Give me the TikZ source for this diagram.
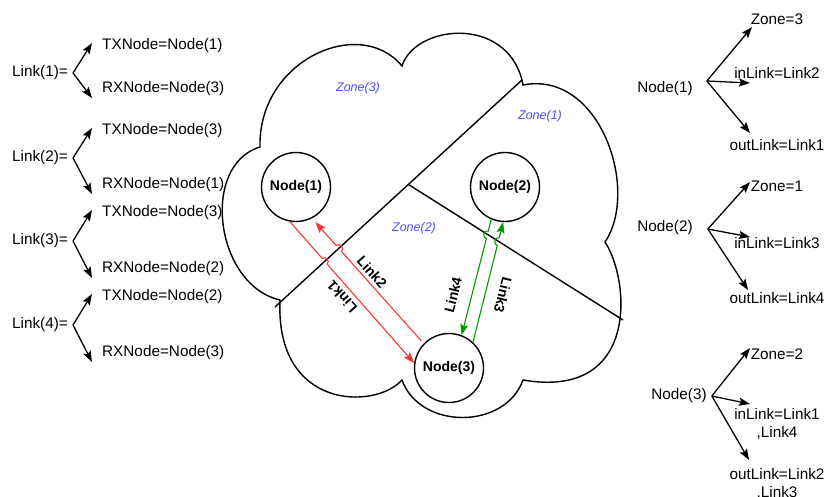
\documentclass[tikz,border=0pt]{standalone}
\usepackage{fontspec}
\setmainfont{Liberation Sans}
\usetikzlibrary{arrows.meta,calc}

\definecolor{linkred}{RGB}{255,51,51}
\definecolor{linkgreen}{RGB}{0,153,0}
\definecolor{zoneblue}{RGB}{77,77,255}

\begin{document}
\begin{tikzpicture}[
		x=1pt,y=-1pt,
		>={Stealth[length=11pt,width=8pt,inset=2pt]},
		txt/.style={font=\fontsize{15.3}{18}\selectfont,inner sep=2pt},
		station/.style={circle,draw,fill=white,line width=1.4pt,minimum size=69pt,inner sep=0pt,
				font=\bfseries\fontsize{14}{16}\selectfont},
		zonelbl/.style={text=zoneblue,font=\itshape\fontsize{12.5}{15}\selectfont},
		linklbl/.style={font=\bfseries\fontsize{14}{16}\selectfont},
		fork/.style={->,line width=1.3pt},
		redlink/.style={->,draw=linkred,line width=1.1pt},
		greenlink/.style={->,draw=linkgreen,line width=1.1pt},
		hopL/.style={bend left=90,looseness=1.5},
		hopR/.style={bend right=90,looseness=1.5}
	]
	\useasboundingbox (0,0) rectangle (827,496);
	\clip (0,0) rectangle (827,496);

	% the cloud
	\draw[line width=1.4pt]
	(260,147) .. controls (258,60) and (360,15) .. (402,66)
	.. controls (415,25) and (505,15) .. (522,80)
	-- (523,85) .. controls (600,70) and (640,190) .. (605,242)
	.. controls (630,280) and (640,400) .. (523,380)
	.. controls (505,430) and (420,430) .. (402,380)
	.. controls (375,410) and (275,410) .. (280,300)
	.. controls (215,285) and (200,165) .. (260,147) -- cycle;

	% zone borders
	\coordinate (a1) at (275,307);
	\coordinate (a2) at (522,80);
	\coordinate (b2) at (623,320);
	\draw[line width=1.4pt] (a1) -- (a2);
	\draw[line width=1.4pt] ($(a1)!0.54!(a2)$) -- (b2);

	\node[zonelbl] (zl3) at (358,88) {Zone(3)};
	\node[zonelbl] (zl1) at (540,116) {Zone(1)};
	\node[zonelbl] (zl2) at (414,228) {Zone(2)};

	% stations
	\node[station] (n1) at (296,187) {Node(1)};
	\node[station] (n2) at (505,187) {Node(2)};
	\node[station] (n3) at (449,368) {Node(3)};

	% links, with a hop where they cross a border
	\draw[redlink] (n1.260) -- ($(n1.260)!0.26!(n3.172)$) to[hopL]
	($(n1.260)!0.30!(n3.172)$) -- (n3.172);
	\draw[redlink,shorten <=4pt,shorten >=5pt] (n3.136) -- ($(n3.136)!0.736!(n1.297)$) to[hopR]
	($(n3.136)!0.784!(n1.297)$) -- (n1.297);
	\draw[greenlink] (n2.247) -- ($(n2.247)!0.10!(n3.69)$) to[hopR]
	($(n2.247)!0.166!(n3.69)$) -- (n3.69);
	\draw[greenlink] (n3.47) -- ($(n3.47)!0.806!(n2.267)$) to[hopL]
	($(n3.47)!0.87!(n2.267)$) -- (n2.267);

	\node[linklbl,rotate=132] (lab1) at (342,297) {Link1};
	\node[linklbl,rotate=-48] (lab2) at (372,272) {Link2};
	\node[linklbl,rotate=-104] (lab3) at (503,295) {Link3};
	\node[linklbl,rotate=76] (lab4) at (453,295) {Link4};

	% link table
	\foreach \k/\y/\t/\r/\a/\b in {1/73/46/89/1/3, 2/158/131/185/3/1, 3/241/213/269/3/2, 4/325/297/353/2/3}{
			\node[txt,anchor=east] (lk\k) at (70,\y) {Link(\k)=};
			\node[txt,anchor=west] (tx\k) at (100,\t) {TXNode=Node(\a)};
			\node[txt,anchor=west] (rx\k) at (100,\r) {RXNode=Node(\b)};
			\draw[fork] ([xshift=3pt]lk\k.east) -- ([shift={(-8,-3)}]tx\k.west);
			\draw[fork] ([xshift=3pt]lk\k.east) -- ([shift={(-8,9)}]rx\k.west);
		}

	% station table
	\node[txt] (nd1) at (665,89) {Node(1)};
	\node[txt] (zn1) at (777,19) {Zone=3};
	\node[txt] (in1) at (777,73) {inLink=Link2};
	\node[txt] (out1) at (777,145) {outLink=Link1};
	\coordinate (o1) at ([shift={(12,-8)}]nd1.east);
	\foreach \lbl/\dx/\dy in {zn1/-25/8, in1/-27/10, out1/-27/-12}
	\draw[fork] (o1) -- ([shift={(\dx,\dy)}]\lbl.center);

	\node[txt] (nd2) at (665,228) {Node(2)};
	\node[txt] (zn2) at (777,186) {Zone=1};
	\node[txt] (in2) at (777,243) {inLink=Link3};
	\node[txt] (out2) at (777,298) {outLink=Link4};
	\coordinate (o2) at ([shift={(13,1)}]nd2.east);
	\foreach \lbl/\dx/\dy in {zn2/-27/-4, in2/-27/-6, out2/-29/-8}
	\draw[fork] (o2) -- ([shift={(\dx,\dy)}]\lbl.center);

	\node[txt] (nd3) at (679,396) {Node(3)};
	\node[txt] (zn3) at (777,354) {Zone=2};
	\node[txt,align=center] (in3) at (777,424) {inLink=Link1\\,Link4};
	\node[txt,align=center] (out3) at (777,484) {outLink=Link2\\,Link3};
	\coordinate (o3) at ([shift={(3,0)}]nd3.east);
	\foreach \lbl/\dx/\dy in {zn3/-27/-6, in3/-27/-20, out3/-28/-24}
	\draw[fork] (o3) -- ([shift={(\dx,\dy)}]\lbl.center);
\end{tikzpicture}
\end{document}
